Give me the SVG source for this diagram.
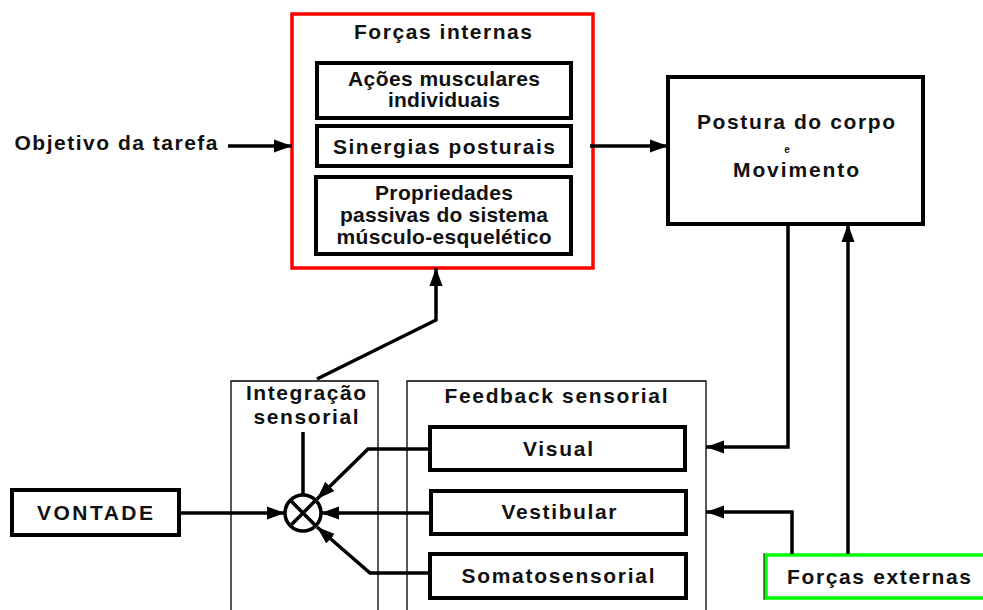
<svg xmlns="http://www.w3.org/2000/svg" width="983" height="610" viewBox="0 0 983 610">
<style>
text{font-family:"Liberation Sans",Arial,sans-serif;font-weight:bold;font-size:21px;fill:#111;text-anchor:middle}
.box{fill:#fff;stroke:#000;stroke-width:4}
.thin{fill:none;stroke:#000;stroke-width:1.3}
.ln{fill:none;stroke:#000;stroke-width:3.5;stroke-linejoin:miter}
</style>
<defs>
<marker id="ah" markerUnits="userSpaceOnUse" markerWidth="20" markerHeight="16" refX="18" refY="8" orient="auto"><path d="M0,1.5 L18,8 L0,14.5 Z" fill="#000"/></marker>
</defs>
<rect width="983" height="610" fill="#fff"/>
<g id="integracao">
<path class="thin" d="M231,610 V381 H378 V610"/>
<text x="306" y="400" textLength="120" lengthAdjust="spacing">Integração</text>
<text x="306" y="424" textLength="105" lengthAdjust="spacing">sensorial</text>
</g>
<g id="feedback">
<path class="thin" d="M407,610 V381 H706 V610"/>
<text x="556" y="403" textLength="223" lengthAdjust="spacing">Feedback sensorial</text>
</g>
<g id="forcas-internas">
<rect x="292" y="14" width="301" height="254" fill="#fff" stroke="#f00" stroke-width="3.5"/>
<text x="443" y="39" textLength="178" lengthAdjust="spacing">Forças internas</text>
</g>
<g id="acoes">
<rect class="box" x="317" y="63" width="254" height="55"/>
<text x="444" y="86" textLength="192" lengthAdjust="spacing">Ações musculares</text>
<text x="444" y="107" textLength="112" lengthAdjust="spacing">individuais</text>
</g>
<g id="sinergias">
<rect class="box" x="317" y="126" width="254" height="40"/>
<text x="444" y="154" textLength="222" lengthAdjust="spacing">Sinergias posturais</text>
</g>
<g id="propriedades">
<rect class="box" x="316" y="177" width="255" height="77"/>
<text x="444" y="200" textLength="138" lengthAdjust="spacing">Propriedades</text>
<text x="444" y="222" textLength="208" lengthAdjust="spacing">passivas do sistema</text>
<text x="444" y="244" textLength="215" lengthAdjust="spacing">músculo-esquelético</text>
</g>
<g id="objetivo">
<text x="116" y="150" textLength="203" lengthAdjust="spacing">Objetivo da tarefa</text>
</g>
<g id="postura">
<rect class="box" x="668" y="77" width="255" height="147"/>
<text x="796" y="129" textLength="198" lengthAdjust="spacing">Postura do corpo</text>
<text x="787" y="153" style="font-size:10px">e</text>
<text x="796" y="177" textLength="126" lengthAdjust="spacing">Movimento</text>
</g>
<g id="vontade">
<rect class="box" x="12" y="490" width="167" height="45"/>
<text x="95" y="520" textLength="116" lengthAdjust="spacing">VONTADE</text>
</g>
<g id="somador">
<circle cx="303" cy="513" r="18" fill="#fff" stroke="#000" stroke-width="3.5"/>
<path d="M290.3,500.3 L315.7,525.7 M315.7,500.3 L290.3,525.7" stroke="#000" stroke-width="3.5"/>
</g>
<g id="visual">
<rect class="box" x="430" y="427" width="255" height="43"/>
<text x="558" y="456" textLength="70" lengthAdjust="spacing">Visual</text>
</g>
<g id="vestibular">
<rect class="box" x="431" y="491" width="255" height="43"/>
<text x="559" y="519" textLength="115" lengthAdjust="spacing">Vestibular</text>
</g>
<g id="somatosensorial">
<rect class="box" x="430" y="554" width="256" height="44"/>
<text x="558" y="583" textLength="193" lengthAdjust="spacing">Somatosensorial</text>
</g>
<g id="forcas-externas">
<rect x="766" y="555" width="230" height="43" fill="#fff" stroke="#0f0" stroke-width="3.5"/>
<line x1="764" y1="553" x2="764" y2="600" stroke="#000" stroke-width="1"/>
<text x="879" y="584" textLength="184" lengthAdjust="spacing">Forças externas</text>
</g>
<g id="connectors">
<path class="ln" d="M228,146 H292" marker-end="url(#ah)"/>
<path class="ln" d="M590,146 H668" marker-end="url(#ah)"/>
<path class="ln" d="M317,379 L436,320 V268" stroke-width="4" marker-end="url(#ah)"/>
<path class="ln" d="M303,432 V495"/>
<path class="ln" d="M179,513 H285" marker-end="url(#ah)"/>
<path class="ln" d="M430,449 H368 L317,499" marker-end="url(#ah)"/>
<path class="ln" d="M431,513 H321" stroke-width="4.5" marker-end="url(#ah)"/>
<path class="ln" d="M430,573 H370 L317,527" marker-end="url(#ah)"/>
<path class="ln" d="M788,224 V447 H706" marker-end="url(#ah)"/>
<path class="ln" d="M792,554 V512 H706" marker-end="url(#ah)"/>
<path class="ln" d="M848,554 V224" stroke-width="4.5" marker-end="url(#ah)"/>
</g>
</svg>
